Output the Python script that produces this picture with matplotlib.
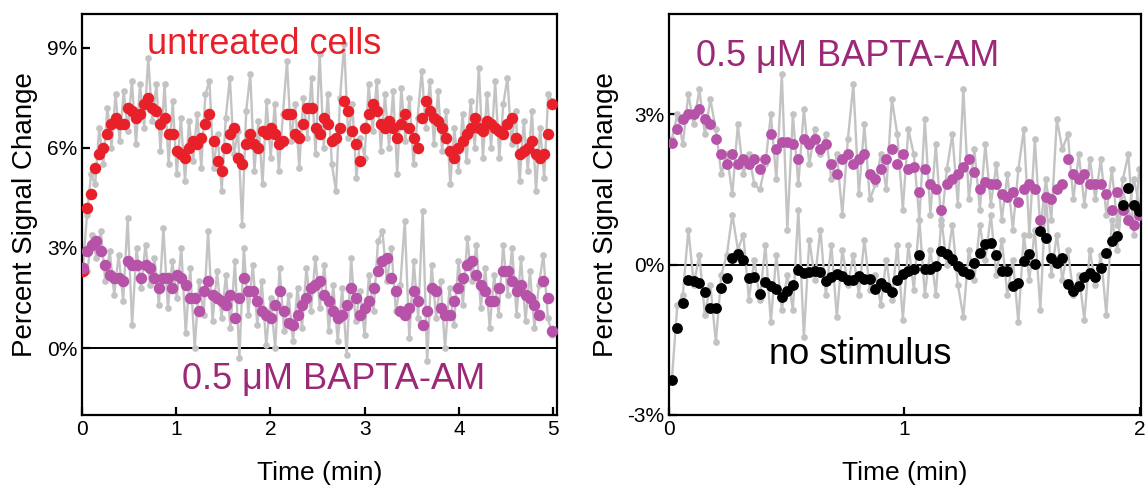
import numpy as np
import matplotlib
matplotlib.use("Agg")
import matplotlib.pyplot as plt

plt.rcParams['font.family'] = ['Liberation Sans', 'DejaVu Sans']

# ---------------- left panel: 0-5 min ----------------
red_smooth = [2.3, 4.2, 4.6, 5.4, 5.8, 6.0, 6.4, 6.7, 6.9, 6.7, 6.7, 7.2, 7.1, 6.9, 7.0, 7.3, 7.5, 7.2,
              7.1, 6.7, 6.9, 6.4, 6.4, 5.9, 5.8, 5.7, 6.0, 6.2, 6.1, 6.3, 6.7, 7.0, 6.2, 5.6, 5.3, 6.0,
              6.4, 6.6, 5.7, 5.5, 6.1, 6.4, 6.1, 6.0, 6.5, 6.4, 6.6, 6.4, 6.1, 6.2, 7.0, 7.0, 6.4, 6.3,
              6.7, 7.2, 7.2, 6.6, 6.4, 6.9, 6.7, 6.2, 6.3, 6.6, 7.4, 7.1, 6.5, 6.1, 5.6, 6.6, 7.0, 7.3,
              7.1, 6.7, 6.6, 6.8, 6.6, 6.3, 6.7, 7.0, 6.6, 6.3, 6.0, 6.9, 7.4, 7.1, 6.9, 6.8, 6.6, 6.3,
              5.9, 5.7, 6.0, 6.2, 6.4, 6.6, 6.9, 6.6, 6.5, 6.8, 6.7, 6.6, 6.5, 6.4, 6.7, 6.9, 6.3, 5.8,
              5.9, 6.0, 6.2, 5.8, 5.7, 5.8, 6.4, 7.3]
red_raw = [2.4, 4.0, 5.2, 4.9, 6.6, 5.5, 7.2, 6.0, 7.6, 6.2, 7.7, 6.5, 8.0, 6.1, 7.9, 6.6, 8.7, 6.8,
           7.9, 5.9, 7.9, 5.5, 7.4, 5.2, 6.9, 5.0, 6.8, 5.6, 7.0, 5.4, 7.6, 8.0, 5.4, 6.4, 4.7, 6.9,
           8.1, 5.8, 6.5, 3.7, 7.1, 8.2, 5.3, 6.8, 4.9, 7.4, 5.7, 7.3, 5.3, 7.0, 8.6, 6.2, 7.3, 5.4,
           7.5, 6.3, 8.1, 5.8, 8.8, 6.0, 7.6, 5.5, 4.7, 7.5, 9.1, 6.3, 7.3, 5.1, 6.3, 5.7, 7.9, 6.5,
           8.0, 5.9, 7.6, 6.0, 7.7, 5.2, 7.8, 6.2, 7.5, 5.5, 6.9, 8.3, 6.6, 8.0, 6.1, 7.7, 5.9, 7.1,
           4.9, 6.6, 5.3, 7.0, 5.6, 7.4, 6.0, 8.4, 5.7, 7.6, 6.0, 8.0, 5.7, 7.3, 8.1, 6.1, 7.1, 5.0,
           6.8, 5.3, 7.1, 4.7, 6.6, 5.1, 7.6, 7.4]

bapta_smooth = [2.4, 2.9, 3.1, 3.2, 2.9, 2.5, 2.2, 2.1, 2.1, 2.0, 2.6, 2.5, 2.5, 2.1, 2.5, 2.4, 2.1, 1.8,
                2.1, 2.1, 1.8, 2.2, 2.1, 1.9, 1.5, 1.5, 1.1, 1.7, 2.0, 1.6, 1.5, 1.4, 1.3, 1.6, 0.9, 1.5,
                2.1, 1.7, 1.7, 1.4, 1.1, 1.0, 0.9, 1.3, 1.7, 1.1, 0.75, 0.7, 1.0, 1.3, 1.5, 1.8, 1.9, 2.0,
                1.6, 1.4, 1.1, 0.9, 1.0, 1.3, 1.8, 1.5, 1.0, 1.2, 1.4, 1.8, 2.3, 2.6, 2.7, 2.1, 1.7, 1.1,
                1.0, 1.2, 1.7, 1.4, 0.7, 1.1, 1.8, 1.7, 1.2, 1.0, 1.0, 1.4, 1.8, 2.1, 2.5, 2.6, 2.2, 1.9,
                1.7, 1.4, 1.4, 1.8, 2.3, 2.3, 2.0, 1.7, 1.9, 1.6, 1.5, 1.3, 1.0, 2.0, 1.5, 0.5]
bapta_raw = [2.5, 2.3, 3.4, 2.7, 3.5, 2.0, 2.9, 1.6, 2.8, 1.4, 3.9, 0.7, 3.0, 1.8, 3.1, 1.9, 2.7, 1.3,
             3.6, 1.2, 2.6, 1.5, 3.0, 0.45, 2.4, 0.0, 2.0, 1.0, 3.5, 0.8, 2.3, 0.9, 2.2, 0.6, 2.6, -0.3,
             3.0, 1.0, 2.5, 0.7, 2.0, 0.1, 1.5, 0.0, 2.4, 0.5, 1.6, 0.2, 1.8, 0.6, 2.4, 1.1, 2.7, 1.2,
             2.5, 0.5, 1.9, 0.2, 1.8, -0.2, 2.7, 0.8, 1.7, 0.4, 2.2, 1.1, 3.2, 3.5, 2.0, 3.0, 1.1, 1.9,
             3.8, 0.3, 2.6, 0.9, 4.1, -0.4, 2.5, 0.9, 2.0, 0.0, 1.8, 0.7, 2.6, 1.3, 3.3, 2.0, 3.1, 1.2,
             2.4, 0.6, 2.2, 1.0, 3.1, 1.6, 3.0, 1.0, 2.7, 0.8, 2.3, 0.6, 1.9, 2.8, 0.9, 0.4]

# ---------------- right panel: 0-2 min ----------------
bapta2_smooth = [2.43, 2.7, 2.9, 3.0, 3.0, 3.1, 2.9, 2.8, 2.5, 2.2, 2.0, 2.2, 2.0, 2.1, 2.0, 2.1, 1.9,
                 2.1, 2.6, 2.3, 2.45, 2.45, 2.4, 2.1, 2.5, 2.4, 2.5, 2.3, 2.4, 2.0, 1.8, 2.1, 2.2, 2.0,
                 2.1, 2.2, 1.8, 1.7, 1.9, 2.1, 2.3, 2.0, 2.2, 1.9, 1.95, 1.45, 1.9, 1.6, 1.5, 1.1, 1.6,
                 1.7, 1.8, 1.95, 2.1, 1.85, 1.5, 1.65, 1.6, 1.6, 1.4, 1.35, 1.45, 1.25, 1.5, 1.6, 1.5,
                 0.9, 1.35, 1.3, 1.5, 1.6, 2.1, 1.8, 1.7, 1.8, 1.6, 1.6, 1.6, 1.4, 1.1, 1.45, 1.1, 0.9,
                 0.8, 1.0]
bapta2_raw = [2.5, 3.0, 2.4, 3.4, 2.8, 3.5, 2.6, 3.3, 2.7, 1.8, 2.2, 1.4, 2.8, 1.8, 2.2, 1.6, 1.5,
              2.0, 3.0, 1.7, 3.8, 0.7, 3.0, 1.6, 3.1, 2.0, 2.7, 2.2, 2.6, 1.7, 2.2, 1.0, 2.5, 3.6,
              1.4, 2.8, 1.3, 1.6, 2.2, 1.5, 3.3, 2.6, 1.1, 2.7, 2.2, 0.9, 2.9, 1.0, 2.4, 0.8, 1.9,
              2.6, 1.2, 3.5, 1.3, 2.3, 1.1, 2.4, 1.2, 2.0, 0.9, 1.8, 0.7, 1.9, 2.7, 0.6, 2.5,
              0.7, 1.7, 0.9, 2.9, 2.3, 2.6, 1.3, 2.2, 1.2, 2.1, 1.3, 2.1, 1.0, 1.9, 0.8, 1.7, 2.2,
              0.6, 1.9]

nostim_smooth = [-2.3, -1.27, -0.76, -0.3, -0.33, -0.37, -0.55, -0.86, -0.86, -0.46, -0.26, 0.14, 0.22,
                 0.1, -0.26, -0.24, -0.58, -0.34, -0.42, -0.48, -0.65, -0.52, -0.4, -0.1, -0.16, -0.15,
                 -0.12, -0.15, -0.32, -0.25, -0.19, -0.22, -0.3, -0.3, -0.22, -0.28, -0.28, -0.48, -0.37,
                 -0.45, -0.55, -0.3, -0.19, -0.12, -0.08, 0.2, -0.08, -0.08, -0.02, 0.28, 0.22, 0.12,
                 -0.02, -0.12, -0.18, 0.04, 0.24, 0.42, 0.44, 0.2, -0.12, -0.12, -0.42, -0.37, 0.08,
                 0.22, 0.02, 0.68, 0.54, 0.14, 0.04, 0.14, -0.38, -0.52, -0.42, -0.24, -0.16, -0.24,
                 -0.06, 0.24, 0.48, 0.58, 1.2, 1.53, 1.2, 1.08]
nostim_raw = [-2.3, -0.8, -0.6, 0.7, -0.4, 0.2, -1.0, -0.4, -1.55, -0.2, 0.2, 1.0, 0.3, 0.6, -0.7, 0.1,
              -0.7, 0.4, -1.15, 0.2, -0.9, -0.2, -0.9, 1.1, -1.45, 0.5, -0.3, 0.7, -0.6, 0.4, -1.05,
              0.3, -0.4, 0.2, -0.6, 0.5, -0.5, -0.2, -0.8, 0.1, -0.7, 0.4, -1.1, 0.4, -0.5, 0.9, -0.6,
              0.3, -0.6, 0.9, 0.0, 0.8, -0.4, -1.04, 0.3, -0.3, 0.8, 0.1, 1.0, -0.2, 0.5, -0.6, 0.1,
              -1.15, 0.6, -0.3, 0.7, -0.9, 1.4, -0.2, 0.6, -0.3, 0.3, -0.6, -0.2, -1.1, 0.3, -0.4, 0.2,
              -1.0, 0.9, 0.3, 1.5, 1.0, 1.7, 1.2]

t_left = np.linspace(0.01, 4.99, len(red_smooth))
t_left_b = np.linspace(0.01, 4.99, len(bapta_smooth))
t_right = np.linspace(0.012, 1.998, len(bapta2_smooth))

GRAY = '#c3c3c3'
RED = '#e8202a'
PURPLE = '#b653a9'
TEXT_PURPLE = '#9c2878'

fig = plt.figure(figsize=(11.45, 4.87), dpi=100)
ax1 = fig.add_axes([0.0716, 0.148, 0.4149, 0.823])
ax2 = fig.add_axes([0.5843, 0.148, 0.4122, 0.823])


def raw_line(ax, t, y):
    ax.plot(t, y, color=GRAY, lw=1.7, marker='o', ms=3.8, mec=GRAY, mfc=GRAY, zorder=2)


def dots(ax, t, y, c, ms=8):
    ax.plot(t, y, ls='none', marker='o', ms=ms, mfc=c, mec='none', zorder=3)


raw_line(ax1, t_left, red_raw)
raw_line(ax1, t_left_b, bapta_raw)
dots(ax1, t_left, red_smooth, RED, 8.3)
dots(ax1, t_left_b, bapta_smooth, PURPLE, 8.3)

raw_line(ax2, t_right, bapta2_raw)
raw_line(ax2, t_right, nostim_raw)
dots(ax2, t_right, bapta2_smooth, PURPLE, 7.8)
dots(ax2, t_right, nostim_smooth, 'black', 7.8)

for ax in (ax1, ax2):
    ax.axhline(0, color='black', lw=1.4, zorder=1)
    for s in ax.spines.values():
        s.set_linewidth(1.6)
    ax.tick_params(direction='in', length=6, width=1.6, labelsize=15, top=False, right=False)
    ax.set_xlabel('Time (min)', fontsize=19, labelpad=16)
    ax.set_ylabel('Percent Signal Change', fontsize=20, labelpad=6)

ax1.set_xlim(0, 5.04)
ax1.set_ylim(-2, 10)
ax1.set_xticks([0, 1, 2, 3, 4, 5])
ax1.set_yticks([0, 3, 6, 9])
ax1.set_yticklabels(['0%', '3%', '6%', '9%'])

ax2.set_xlim(0, 2.005)
ax2.set_ylim(-3, 5)
ax2.set_xticks([0, 1, 2])
ax2.set_yticks([-3, 0, 3])
ax2.set_yticklabels(['-3%', '0%', '3%'])

ax1.text(1.93, 9.1, 'untreated cells', color=RED, fontsize=26, ha='center', va='center')
ax1.text(2.67, -0.95, '0.5 μM BAPTA-AM', color=TEXT_PURPLE, fontsize=26, ha='center', va='center')
ax2.text(0.76, 4.15, '0.5 μM BAPTA-AM', color=TEXT_PURPLE, fontsize=26, ha='center', va='center')
ax2.text(0.81, -1.8, 'no stimulus', color='black', fontsize=26, ha='center', va='center')

fig.savefig('out.png', dpi=100)
